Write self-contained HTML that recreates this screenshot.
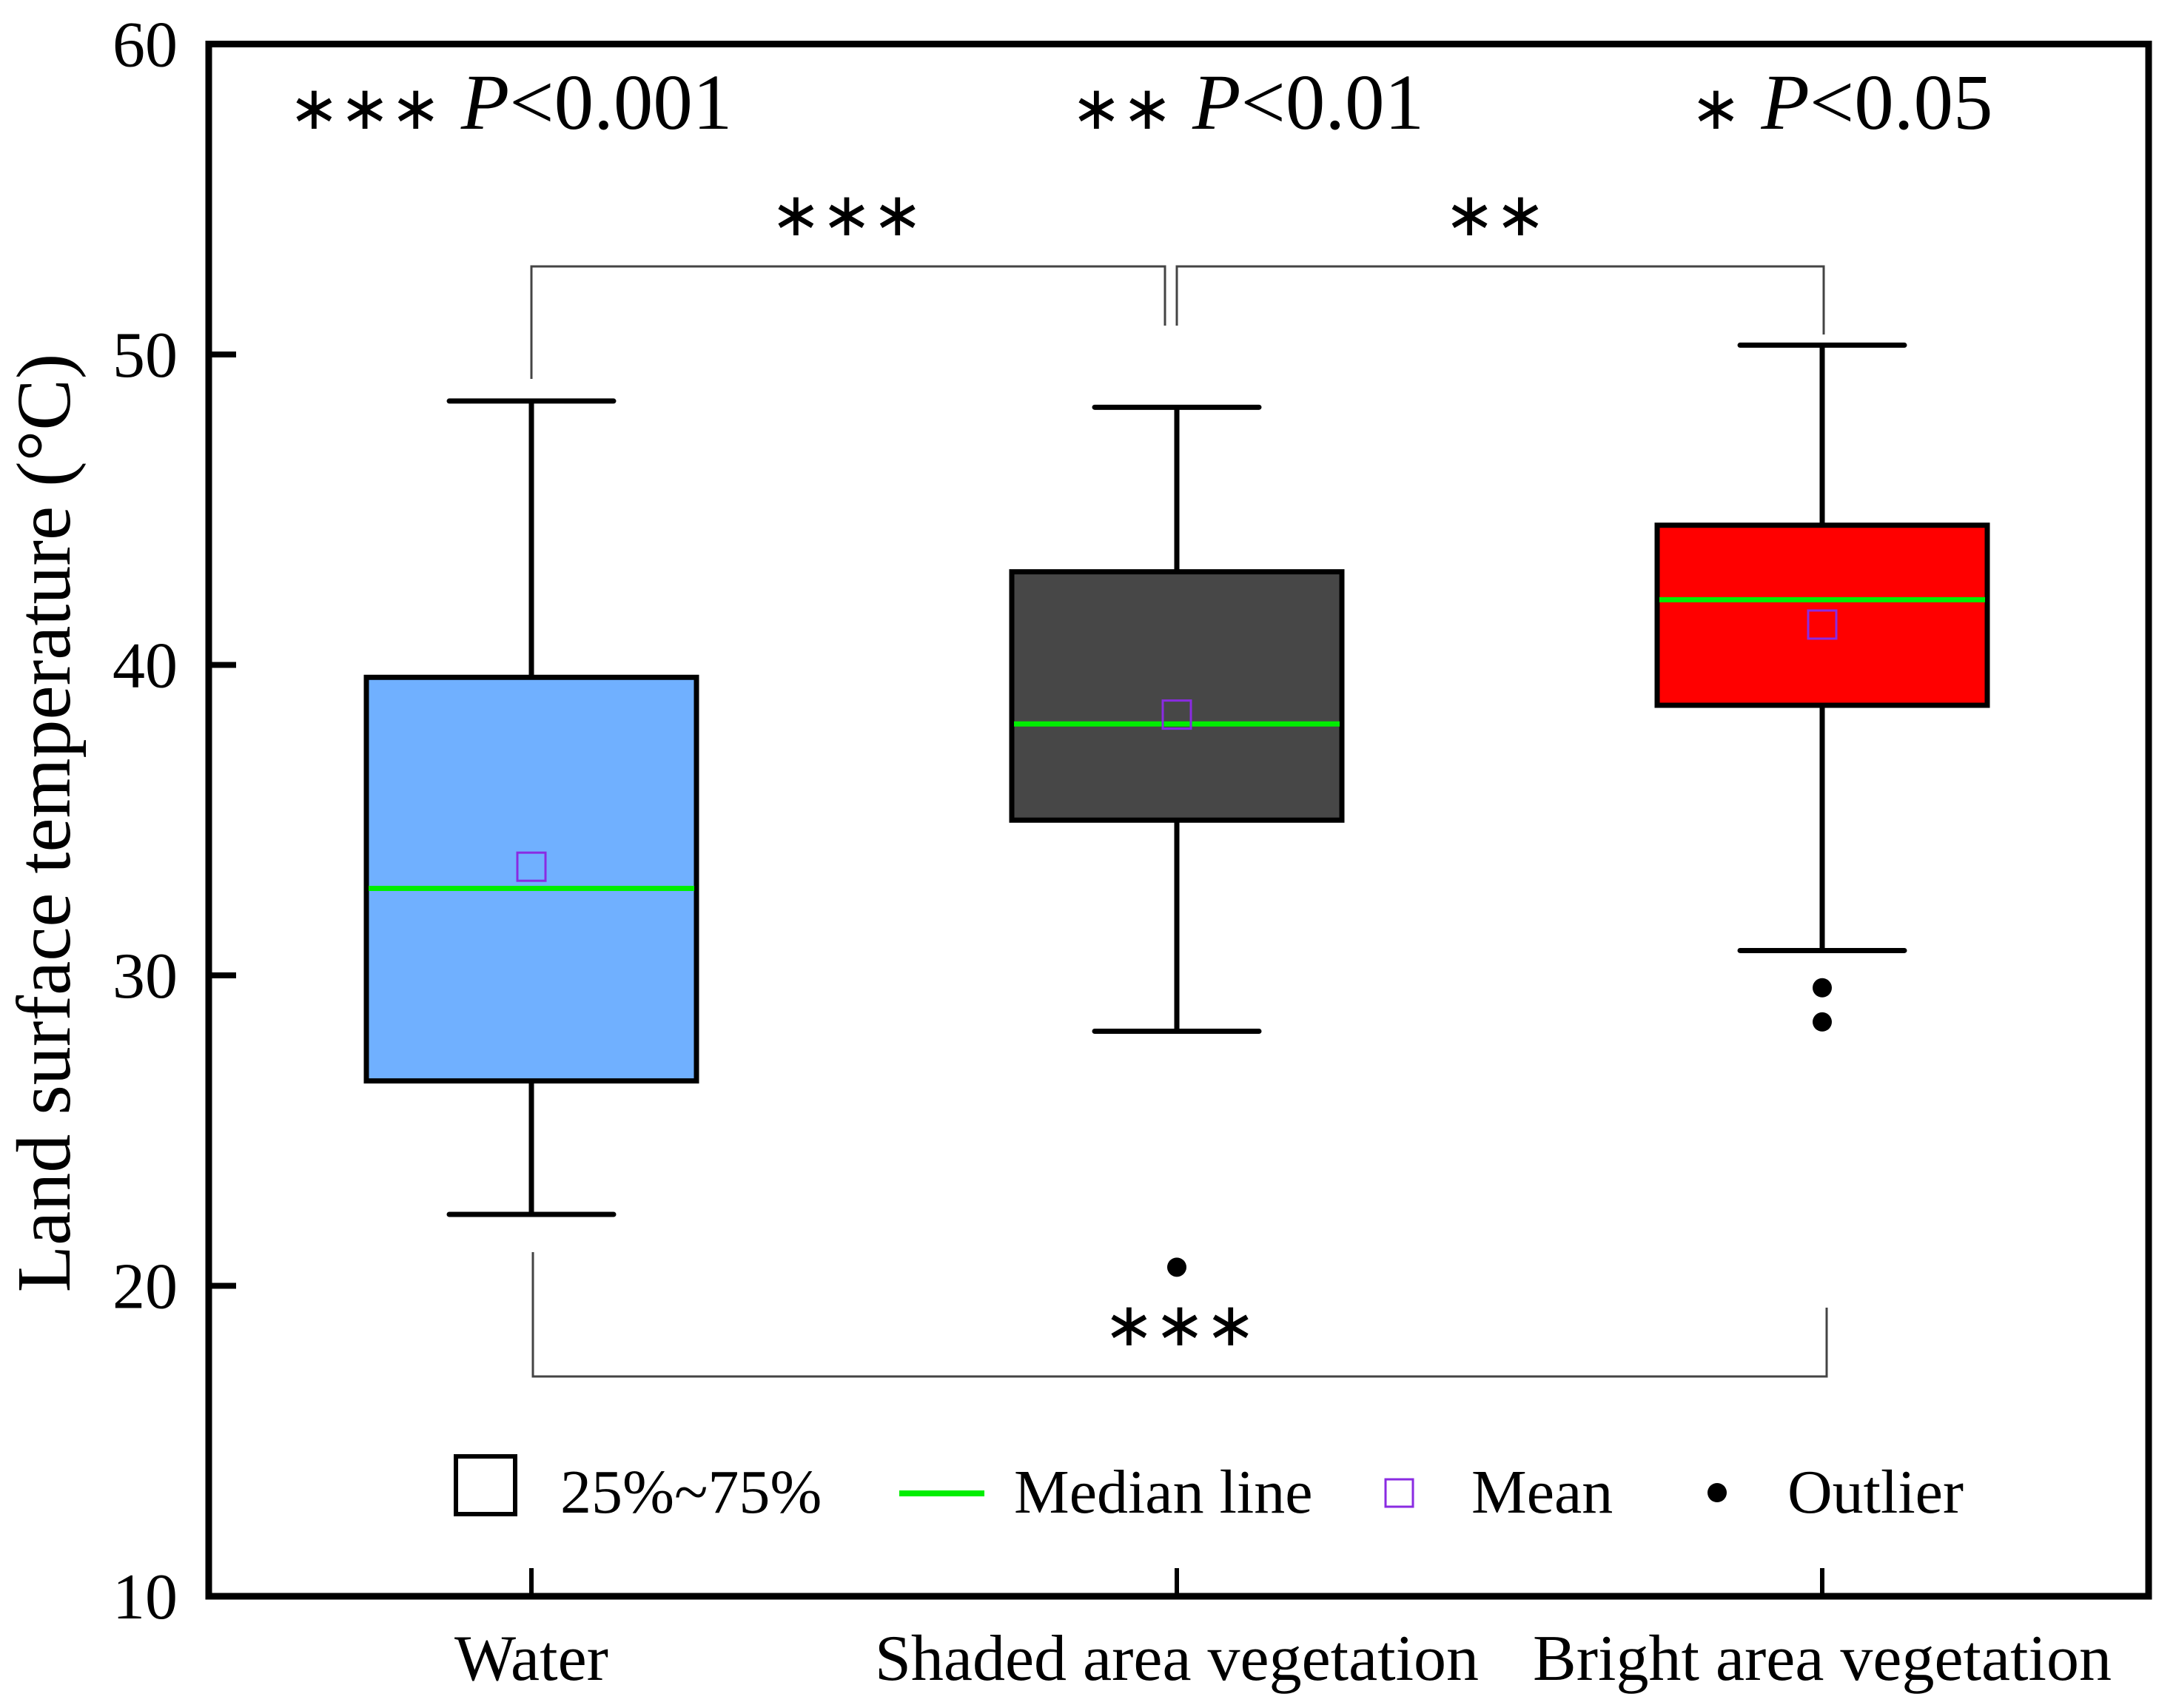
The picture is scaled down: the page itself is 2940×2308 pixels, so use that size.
<!DOCTYPE html>
<html><head><meta charset="utf-8"><style>
html,body{margin:0;padding:0;background:#fff;}
svg{display:block;font-family:"Liberation Serif",serif;}
</style></head><body>
<svg id="chart" width="2940" height="2308" viewBox="0 0 2940 2308">
<g id="layer"></g>
</svg>
<script>
const categories = ["Water", "Shaded area vegetation", "Bright area vegetation"];
const whiskerHigh = [48.5, 48.3, 50.3];
const q3Values = [39.6, 43.0, 44.5];
const medianValues = [32.8, 38.1, 42.1];
const meanValues = [33.5, 38.4, 41.3];
const q1Values = [26.6, 35.0, 38.7];
const whiskerLow = [22.3, 28.2, 30.8];
const outliers = [[], [20.6], [29.6, 28.5]];
const boxColors = ["#70b0ff", "#474747", "#ff0000"];
const yTicks = [10, 20, 30, 40, 50, 60];

const NS = "http://www.w3.org/2000/svg";
const layer = document.getElementById("layer");
const L = 282, R = 2903, T = 59.5, B = 2157;
const yMin = 10, yMax = 60;
function yS(v){ return B - (v - yMin) / (yMax - yMin) * (B - T); }
function xS(i){ return 718 + i * 872; }
function mk(tag, attrs, parent){
  const e = document.createElementNS(NS, tag);
  for (const k in attrs) e.setAttribute(k, attrs[k]);
  (parent || layer).appendChild(e);
  return e;
}

for (let i = 0; i < categories.length; i++){
  const g = mk("g", {});
  
  
  const cx = xS(i);
  const w = mk("line", {x1:cx, x2:cx, y1:yS(whiskerHigh[i]), y2:yS(whiskerLow[i]), stroke:"#000", "stroke-width":7}, g);
  
  
  for (const v of [whiskerHigh[i], whiskerLow[i]]){
    const c = mk("line", {x1:cx-111, x2:cx+111, y1:yS(v), y2:yS(v), stroke:"#000", "stroke-width":7, "stroke-linecap":"round"}, g);
    
    
  }
  const r = mk("rect", {x:cx-223, y:yS(q3Values[i]), width:446, height:yS(q1Values[i])-yS(q3Values[i]), fill:boxColors[i], stroke:"#000", "stroke-width":7}, g);
  
  
  const m = mk("line", {x1:cx-220, x2:cx+220, y1:yS(medianValues[i]), y2:yS(medianValues[i]), stroke:"#00ee00", "stroke-width":7}, g);
  
  
  const mn = mk("rect", {x:cx-19, y:yS(meanValues[i])-19, width:38, height:38, fill:"none", stroke:"#8a2be2", "stroke-width":3}, g);
  
  
  for (const o of outliers[i]){
    const d = mk("circle", {cx:cx, cy:yS(o), r:13, fill:"#000"}, g);
    
    
  }
}

const frame = mk("rect", {x:L, y:T, width:R-L, height:B-T, fill:"none", stroke:"#000", "stroke-width":9});


for (const t of yTicks){
  if (t !== yMin && t !== yMax){
    const tk = mk("line", {x1:L, x2:L+37, y1:yS(t), y2:yS(t), stroke:"#000", "stroke-width":8});
    
    
  }
  const tl = mk("text", {x:240, y:yS(t)+30, "text-anchor":"end", "font-size":88});
  tl.textContent = t;
  
  
}
for (let i = 0; i < categories.length; i++){
  const tk = mk("line", {x1:xS(i), x2:xS(i), y1:B, y2:B-38, stroke:"#000", "stroke-width":6});
  
  
  const xl = mk("text", {x:xS(i), y:2270, "text-anchor":"middle", "font-size":88});
  xl.textContent = categories[i];
  
  
}
</script>
<svg width="2940" height="2308" viewBox="0 0 2940 2308" style="position:absolute;left:0;top:0;font-family:'Liberation Serif',serif">
  <text x="70" y="1112" transform="rotate(-90 70 1112)" text-anchor="middle" dominant-baseline="middle" font-size="104">Land surface temperature (°C)</text>
  <g font-size="107">
    <text x="390" y="174"><tspan font-size="82">∗∗∗</tspan> <tspan font-style="italic">P</tspan>&lt;0.001</text>
    <text x="1447" y="174"><tspan font-size="82">∗∗</tspan> <tspan font-style="italic">P</tspan>&lt;0.01</text>
    <text x="2284" y="174"><tspan font-size="82">∗</tspan> <tspan font-style="italic">P</tspan>&lt;0.05</text>
  </g>
  <g fill="none" stroke="#444" stroke-width="3">
    <polyline points="718,512 718,360 1574,360 1574,440"/>
    <polyline points="1590,440 1590,360 2464,360 2464,452"/>
    <polyline points="720,1692 720,1860 2468,1860 2468,1767"/>
  </g>
  <g font-size="82" text-anchor="middle">
    <text x="1144" y="318">∗∗∗</text>
    <text x="2020" y="318">∗∗</text>
    <text x="1594" y="1818">∗∗∗</text>
  </g>
  <g font-size="84">
    <rect x="616" y="1968" width="80" height="78" fill="none" stroke="#000" stroke-width="6"/>
    <text x="757" y="2044">25%~75%</text>
    <line x1="1215" x2="1330" y1="2018" y2="2018" stroke="#00ee00" stroke-width="8"/>
    <text x="1370" y="2044">Median line</text>
    <rect x="1872" y="1999" width="37" height="37" fill="none" stroke="#8a2be2" stroke-width="3"/>
    <text x="1988" y="2044">Mean</text>
    <circle cx="2320" cy="2017" r="13" fill="#000"/>
    <text x="2415" y="2044">Outlier</text>
  </g>
</svg>
</body></html>
